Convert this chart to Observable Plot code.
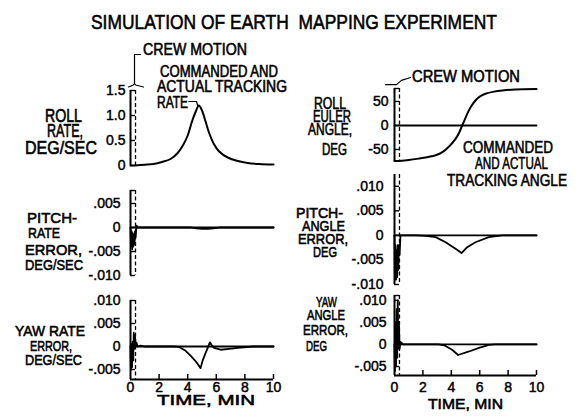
<!DOCTYPE html>
<html><head><meta charset="utf-8">
<script src="https://cdn.jsdelivr.net/npm/d3@7"></script>
<script src="https://cdn.jsdelivr.net/npm/@observablehq/plot@0.6"></script>
<style>
html,body{margin:0;padding:0;background:#fff;}
#chart{position:relative;width:579px;height:419px;overflow:hidden;background:#fff;}
#chart svg{position:absolute;left:0;top:0;}
#chart svg text{stroke:#000;stroke-width:0.45px;}
.lbl{position:absolute;white-space:pre;font-family:"Liberation Sans",Arial,sans-serif;color:#000;line-height:0.75;-webkit-text-stroke:0.6px #000;}
</style></head><body><div id="chart"></div>
<script>
// ---------- data ----------
const timeTicks = [0, 2, 4, 6, 8, 10];
const crewEnd = 0.35;          // end of crew motion, min
const zeroT = [0, 10];
const zeroV = [0, 0];

// Roll rate, deg/sec (commanded and actual tracking rate)
const rollRateT = [0, 0.5, 1, 1.6, 2.2, 2.8, 3.3, 3.7, 4.0, 4.3, 4.55, 4.78, 5.0, 5.25, 5.5, 5.85, 6.2, 6.8, 7.5, 8.2, 9, 10];
const rollRateV = [0, 0.005, 0.015, 0.03, 0.07, 0.13, 0.25, 0.42, 0.6, 0.88, 1.07, 1.2, 1.1, 0.88, 0.65, 0.42, 0.28, 0.16, 0.09, 0.05, 0.03, 0.02];
const rollRateTicks = [0, 0.5, 1.0, 1.5];
const rollRateTickLabels = ["0", "0.5", "1.0", "1.5"];

// Pitch-rate error, deg/sec
const pitchRateErrT = [0, 0.04, 0.08, 0.12, 0.16, 0.2, 0.24, 0.28, 0.32, 0.36, 0.42, 0.5, 1, 2, 3, 4.2, 4.6, 5, 5.4, 5.8, 6.3, 8, 10];
const pitchRateErrV = [0, -0.004, -0.0008, -0.0045, -0.0012, -0.004, -0.0015, -0.0035, -0.0008, -0.002, 0.0004, 0, 0, 0, 0, 0, -0.0002, -0.0003, -0.0003, -0.0002, 0, 0, 0];
const pitchRateTicks = [0.005, 0, -0.005, -0.010];
const pitchRateTickLabels = [".005", "0", "-.005", "-.010"];

// Yaw rate error, deg/sec
const yawRateErrT = [0, 0.03, 0.07, 0.11, 0.15, 0.19, 0.23, 0.27, 0.31, 0.36, 0.42, 0.5, 0.7, 1, 2, 3, 3.4, 3.8, 4.2, 4.5, 4.7, 4.9, 5.05, 5.24, 5.4, 5.55, 5.7, 5.85, 6.3, 6.9, 7.5, 8.6, 10];
const yawRateErrV = [0, -0.005, 0.0005, -0.0045, 0.001, -0.003, 0.003, -0.0005, 0.0025, 0.0002, 0.0008, 0, 0.0002, 0, 0, 0, -0.0001, -0.0008, -0.002, -0.003, -0.0038, -0.0047, -0.003, -0.0015, -0.0003, 0.0009, 0.0002, -0.0003, -0.0007, -0.0005, -0.0003, 0, 0];
const yawRateTicks = [0.010, 0.005, 0, -0.005];
const yawRateTickLabels = [".010", ".005", "0", "-.005"];

// Roll Euler angle, deg (commanded and actual tracking angle)
const rollAngleT = [0, 0.5, 1, 1.7, 2.3, 2.9, 3.4, 3.8, 4.05, 4.3, 4.55, 4.77, 5.0, 5.23, 5.45, 5.7, 6.0, 6.4, 7, 7.6, 8.5, 10];
const rollAngleV = [-74, -73.5, -72, -69, -66, -62, -55, -45, -37, -28, -15, 0, 16, 31, 42, 52, 60, 66, 70.5, 73, 75, 76];
const rollAngleTicks = [50, 0, -50];
const rollAngleTickLabels = ["50", "0", "-50"];

// Pitch-angle error, deg
const pitchAngleErrT = [0, 0.03, 0.07, 0.11, 0.15, 0.19, 0.23, 0.27, 0.31, 0.36, 0.42, 0.6, 1.5, 2.2, 2.9, 3.6, 4.3, 4.72, 5.12, 5.7, 6.64, 7.6, 10];
const pitchAngleErrV = [0, -0.009, -0.002, -0.009, -0.003, -0.0085, -0.002, -0.007, -0.002, -0.004, 0, 0, 0, -0.0001, -0.00035, -0.0014, -0.0027, -0.0036, -0.0024, -0.0014, -0.00035, 0, 0];
const pitchAngleTicks = [0.010, 0.005, 0, -0.005, -0.010];
const pitchAngleTickLabels = [".010", ".005", "0", "-.005", "-.010"];

// Yaw angle error, deg
const yawAngleErrT = [0, 0.03, 0.07, 0.11, 0.15, 0.19, 0.23, 0.27, 0.31, 0.36, 0.42, 0.6, 1, 2, 3.1, 3.5, 4.06, 4.48, 5.25, 5.95, 6.65, 7.1, 10];
const yawAngleErrV = [0, -0.006, 0.005, -0.005, 0.008, -0.003, 0.010, -0.001, 0.005, -0.001, 0.0006, 0, 0, 0, 0, -0.0002, -0.0012, -0.0024, -0.0016, -0.0008, -0.0001, 0, 0];
const yawAngleTicks = [0.010, 0.005, 0, -0.005];
const yawAngleTickLabels = [".010", ".005", "0", "-.005"];

// annotation leader lines (in data units of their panel)
const crewLeaderLeftT = [0.70, 0.28, 0.28];
const crewLeaderLeftV = [2.22, 2.22, 1.64];
const crewBraceLeftT = [-0.14, 0.2, 0.28, 0.36, 0.91];
const crewBraceLeftV = [1.57, 1.61, 1.64, 1.61, 1.57];
const rateLeaderT = [4.08, 4.62, 4.69];
const rateLeaderV = [1.28, 1.28, 1.2];
const crewLeaderRightT = [-0.63, 0.14, 0.49, 1.13];
const crewLeaderRightV = [85, 85, 94, 100];

// ---------- drawing ----------
const W = 579, H = 419;
const chart = document.getElementById("chart");
const pts = (T, V) => T.map((t, i) => ({t, v: V[i]}));

function panel(o) {
  const [x0, x1] = o.x, [yt, yb] = o.y;
  const labelMap = new Map(o.ticks.map((d, i) => [d, o.labels[i]]));
  const marks = [
    Plot.ruleX([0], {stroke: "black", strokeWidth: 2}),
    Plot.ruleX([crewEnd], {stroke: "black", strokeWidth: 1.3, strokeDasharray: "4,2.5"}),
    Plot.ruleY(o.ticks, {x1: 0, x2: crewEnd, stroke: "black", strokeWidth: 1.4}),
    Plot.ruleY(o.caps || [], {x1: 0, x2: crewEnd, stroke: "black", strokeWidth: 1.4}),
    Plot.axisY(o.ticks, {tickSize: 0, tickPadding: o.pad, tickFormat: d => labelMap.get(d), fontSize: 14})
  ];
  if (o.bottom) {
    marks.push(
      Plot.ruleY([o.domain[0]], {stroke: "black", strokeWidth: 2}),
      Plot.tickX(timeTicks.slice(1), {stroke: "black", strokeWidth: 1.5, insetTop: (yb - yt) - 5}),
      Plot.axisX(timeTicks, {tickSize: 0, tickPadding: o.xpad, fontSize: 14})
    );
  }
  for (const s of o.series) {
    marks.push(Plot.line(s.data, {x: "t", y: "v", stroke: "black", strokeWidth: s.w || 1.8, curve: s.curve || "linear"}));
  }
  const svg = Plot.plot({
    width: W, height: H,
    marginLeft: x0, marginRight: W - x1, marginTop: yt, marginBottom: H - yb,
    x: {domain: [0, 10], axis: o.bottom ? undefined : null, label: null},
    y: {domain: o.domain, label: null},
    style: {background: "transparent", fontFamily: "Liberation Sans, Arial, sans-serif", fontSize: "14px", color: "black", overflow: "visible"},
    marks
  });
  chart.appendChild(svg);
}

const leftX = [130, 273], rightX = [394, 536];

panel({x: leftX, y: [90, 165], domain: [0, 1.5], ticks: rollRateTicks, labels: rollRateTickLabels, pad: 5,
  series: [
    {data: pts(rollRateT, rollRateV), curve: "catmull-rom", w: 2},
    {data: pts(crewLeaderLeftT, crewLeaderLeftV), w: 1.2},
    {data: pts(crewBraceLeftT, crewBraceLeftV), w: 1.2},
    {data: pts(rateLeaderT, rateLeaderV), w: 1.2}
  ]});
panel({x: leftX, y: [190, 275], domain: [-0.010, 0.0077], ticks: pitchRateTicks, labels: pitchRateTickLabels, caps: [0.0077], pad: 10,
  series: [{data: pts(zeroT, zeroV)}, {data: pts(pitchRateErrT, pitchRateErrV)}]});
panel({x: leftX, y: [300, 379], domain: [-0.00717, 0.010], ticks: yawRateTicks, labels: yawRateTickLabels, pad: 10, bottom: true, xpad: 3,
  series: [{data: pts(zeroT, zeroV)}, {data: pts(yawRateErrT, yawRateErrV)}]});
panel({x: rightX, y: [88, 161], domain: [-75, 77], ticks: rollAngleTicks, labels: rollAngleTickLabels, caps: [77], pad: 6,
  series: [{data: pts(zeroT, zeroV)}, {data: pts(rollAngleT, rollAngleV), curve: "catmull-rom", w: 2},
    {data: pts(crewLeaderRightT, crewLeaderRightV), w: 1.2}]});
panel({x: rightX, y: [174, 284], domain: [-0.010, 0.0124], ticks: pitchAngleTicks, labels: pitchAngleTickLabels, pad: 11,
  series: [{data: pts(zeroT, zeroV)}, {data: pts(pitchAngleErrT, pitchAngleErrV)}]});
panel({x: rightX, y: [295, 375], domain: [-0.00705, 0.0111], ticks: yawAngleTicks, labels: yawAngleTickLabels, caps: [0.0111], pad: 8, bottom: true, xpad: 7,
  series: [{data: pts(zeroT, zeroV)}, {data: pts(yawAngleErrT, yawAngleErrV)}]});

// ---------- text ----------
function label(text, left, cy, w, cap) {
  const fs = cap / 0.716;
  const el = document.createElement("div");
  el.className = "lbl";
  el.textContent = text;
  el.style.fontSize = fs + "px";
  el.style.left = left + "px";
  el.style.top = "0px";
  chart.appendChild(el);
  const nat = el.getBoundingClientRect().width;
  el.style.top = (cy - 0.3635 * fs) + "px";
  el.style.transformOrigin = "0 0";
  el.style.transform = `scaleX(${w / nat})`;
}

label("SIMULATION OF EARTH  MAPPING EXPERIMENT", 91, 22, 406, 15);
// left column
label("CREW MOTION", 143, 50, 104, 12);
label("COMMANDED AND", 160, 71, 118, 11.5);
label("ACTUAL TRACKING", 157, 86, 130, 11.5);
label("RATE", 157, 102, 31, 11.5);
label("ROLL", 45, 116, 37, 12.5);
label("RATE,", 47, 131, 36, 12.5);
label("DEG/SEC", 25, 148, 72, 12.5);
label("PITCH-", 27, 218, 50, 11);
label("RATE", 28, 233, 32, 11);
label("ERROR,", 25, 250, 57, 11);
label("DEG/SEC", 25, 265, 58, 11);
label("YAW RATE", 15, 331, 70, 11);
label("ERROR,", 30, 346, 42, 11);
label("DEG/SEC", 25, 360, 57, 11);
label("TIME, MIN", 157, 400, 98, 11);
// right column
label("CREW MOTION", 412, 77, 108, 12);
label("ROLL", 314, 103, 32, 11.5);
label("EULER", 313, 116, 38, 11.5);
label("ANGLE,", 308, 129, 44, 11.5);
label("DEG", 322, 149, 25, 11.5);
label("COMMANDED", 463, 148, 90, 12);
label("AND ACTUAL", 475, 164, 73, 12);
label("TRACKING ANGLE", 447, 181, 120, 12);
label("PITCH-", 296, 213, 47, 11);
label("ANGLE", 302, 226, 43, 11);
label("ERROR,", 298, 239, 50, 11);
label("DEG", 313, 252, 24, 11);
label("YAW", 316, 302, 21, 11);
label("ANGLE", 307, 315, 38, 11);
label("ERROR,", 303, 330, 45, 11);
label("DEG", 306, 346, 21, 11);
label("TIME, MIN", 428, 404, 75, 11);
</script></body></html>
